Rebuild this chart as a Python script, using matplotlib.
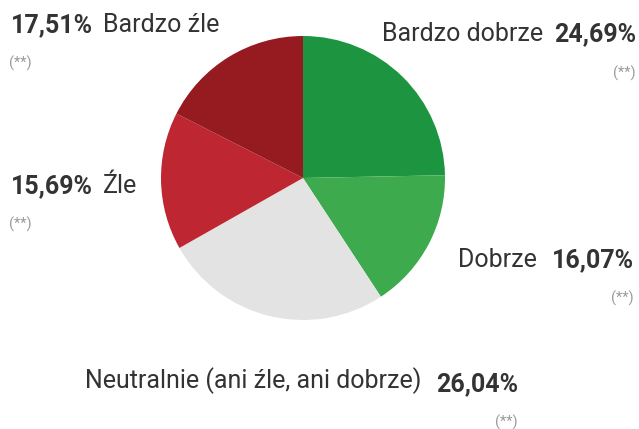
import matplotlib
matplotlib.use("Agg")
import matplotlib.pyplot as plt

labels = ["Bardzo dobrze", "Dobrze", "Neutralnie (ani źle, ani dobrze)", "Źle", "Bardzo źle"]
values = [24.69, 16.07, 26.04, 15.69, 17.51]
colors = ["#1d9540", "#3dab4d", "#e3e3e3", "#be2631", "#961b21"]
pct_labels = ["24,69%", "16,07%", "26,04%", "15,69%", "17,51%"]

plt.rcParams['font.family'] = ['Roboto', 'DejaVu Sans']

W, H = 639, 429
fig = plt.figure(figsize=(W / 100, H / 100), dpi=100)
ax = fig.add_axes([0, 0, 1, 1])

# pie centre in pixel coords (y measured from bottom)
ax.pie(values, colors=colors, startangle=90, counterclock=False,
       center=(303, H - 178), radius=142, frame=True,
       wedgeprops=dict(linewidth=0))
ax.set_xlim(0, W)
ax.set_ylim(0, H)
ax.set_aspect('equal')
ax.axis('off')

txt = "#333333"
note = "#999999"
fs = 18
nfs = 10.5

def y(p):
    return H - p

def bold(x, yy, s, ha):
    ax.text(x, y(yy), s, fontsize=fs, fontweight='bold', color=txt, va='center', ha=ha)

def reg(x, yy, s, ha):
    ax.text(x, y(yy), s, fontsize=fs, color=txt, va='center', ha=ha)

def star(x, yy, ha):
    ax.text(x, y(yy), "(**)", fontsize=nfs, color=note, va='center', ha=ha)

# Bardzo zle (top left)
bold(11, 25, pct_labels[4], 'left')
reg(103, 25, labels[4], 'left')
star(9, 63, 'left')

# Bardzo dobrze (top right)
bold(636, 34, pct_labels[0], 'right')
reg(543, 34, labels[0], 'right')
star(636, 73, 'right')

# Zle (left)
bold(11, 186, pct_labels[3], 'left')
reg(103, 186, labels[3], 'left')
star(9, 224, 'left')

# Dobrze (right)
bold(634, 260, pct_labels[1], 'right')
reg(537, 260, labels[1], 'right')
star(634, 298, 'right')

# Neutralnie (bottom)
bold(518, 384, pct_labels[2], 'right')
reg(421, 381, labels[2], 'right')
star(518, 422, 'right')

fig.savefig("out.png", dpi=100)
